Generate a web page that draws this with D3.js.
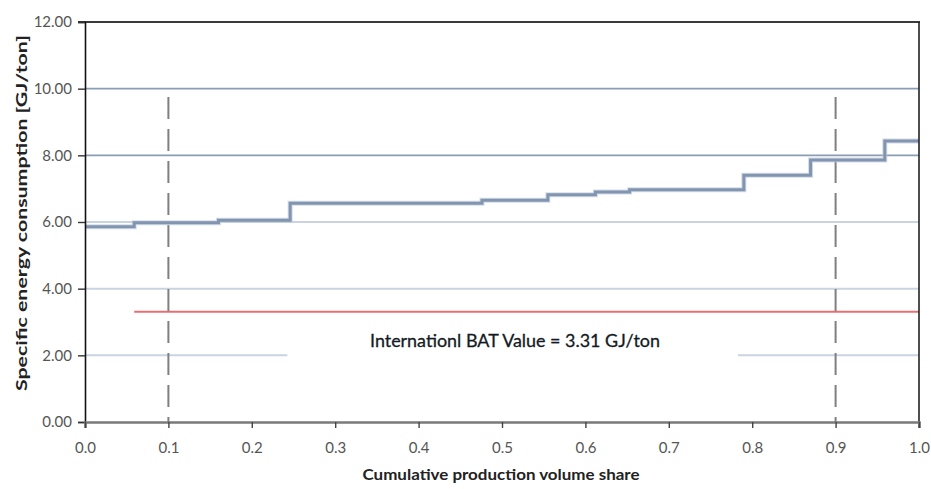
<!DOCTYPE html>
<html>
<head>
<meta charset="utf-8">
<script src="https://cdn.jsdelivr.net/npm/d3@7"></script>
<style>
  html, body { margin: 0; padding: 0; background: #fff; }
  svg { display: block; }
</style>
</head>
<body>
<svg id="chart" width="931" height="489"></svg>
<script>
// Cumulative production share (breakpoints) and specific energy use of each plant block
const shareBreaks = [0, 0.059, 0.16, 0.246, 0.476, 0.555, 0.612, 0.653, 0.79, 0.870, 0.959, 1.0];
const energyLevels = [5.86, 5.98, 6.05, 6.56, 6.65, 6.82, 6.90, 6.97, 7.40, 7.86, 8.43];

// International best available technology benchmark
const batValue = 3.31;
const batStart = 0.059;
const batLabel = "Internationl BAT Value = 3.31 GJ/ton";

// Decile markers
const decileMarks = [0.1, 0.9];
const decileTop = 9.75;

const yTicks = [0, 2, 4, 6, 8, 10, 12];
const xTicks = [0, 0.1, 0.2, 0.3, 0.4, 0.5, 0.6, 0.7, 0.8, 0.9, 1.0];
const darkGrid = [8, 10];
const lightGrid = [4, 6];
// The 2.00 gridline is interrupted by the benchmark label
const gridTwoSegments = [[0, 0.2426], [0.783, 1.0]];

const xTitle = "Cumulative production volume share";
const yTitle = "Specific energy consumption [GJ/ton]";

const svg = d3.select("#chart");
const plotLeft = 85, plotRight = 919, plotTop = 22, plotBottom = 422;

const x = d3.scaleLinear().domain([0, 1]).range([plotLeft, plotRight]);
const y = d3.scaleLinear().domain([0, 12]).range([plotBottom, plotTop]);

const tickFont = "Lato, 'Open Sans', sans-serif";

// Gridlines
svg.append("g").selectAll("line").data(lightGrid).join("line")
  .attr("x1", x(0)).attr("x2", x(1))
  .attr("y1", d => y(d)).attr("y2", d => y(d))
  .attr("stroke", "#c9d3e2").attr("stroke-width", 2);

svg.append("g").selectAll("line").data(gridTwoSegments).join("line")
  .attr("x1", d => x(d[0])).attr("x2", d => x(d[1]))
  .attr("y1", y(2)).attr("y2", y(2))
  .attr("stroke", "#c9d3e2").attr("stroke-width", 2);

svg.append("g").selectAll("line").data(darkGrid).join("line")
  .attr("x1", x(0)).attr("x2", x(1))
  .attr("y1", d => y(d)).attr("y2", d => y(d))
  .attr("stroke", "#8a9cb6").attr("stroke-width", 1.6);

// BAT benchmark line
svg.append("line")
  .attr("x1", x(batStart)).attr("x2", x(1))
  .attr("y1", y(batValue)).attr("y2", y(batValue))
  .attr("stroke", "#e46f72").attr("stroke-width", 2);

// Decile dashed markers
svg.append("g").selectAll("line").data(decileMarks).join("line")
  .attr("x1", d => x(d)).attr("x2", d => x(d))
  .attr("y1", y(decileTop)).attr("y2", y(0))
  .attr("stroke", "#7f7f7f").attr("stroke-width", 2)
  .attr("stroke-dasharray", "22 10");

// Step curve of specific energy consumption
const stepPoints = shareBreaks.map((s, i) => [s, energyLevels[Math.min(i, energyLevels.length - 1)]]);
const stepLine = d3.line()
  .x(d => x(d[0])).y(d => y(d[1]))
  .curve(d3.curveStepAfter);
svg.append("path")
  .datum(stepPoints)
  .attr("d", stepLine)
  .attr("fill", "none")
  .attr("stroke", "#c2cddd").attr("stroke-width", 5).attr("opacity", 0.7);
svg.append("path")
  .datum(stepPoints)
  .attr("d", stepLine)
  .attr("fill", "none")
  .attr("stroke", "#8194b0").attr("stroke-width", 3);

// Frame: top and right borders
svg.append("line")
  .attr("x1", x(0) - 7).attr("x2", x(1) + 1)
  .attr("y1", y(12)).attr("y2", y(12))
  .attr("stroke", "#3a3a3a").attr("stroke-width", 2);
svg.append("line")
  .attr("x1", x(1)).attr("x2", x(1))
  .attr("y1", y(12)).attr("y2", y(0) + 6)
  .attr("stroke", "#222").attr("stroke-width", 1.6);

// Y axis
const yAxis = d3.axisLeft(y).tickValues(yTicks).tickSize(7).tickPadding(6)
  .tickFormat(d3.format(".2f"));
const gy = svg.append("g").attr("transform", `translate(${plotLeft},0)`).call(yAxis);
gy.select(".domain").attr("stroke", "#111").attr("stroke-width", 1.6);
gy.selectAll(".tick line").attr("stroke", "#333").attr("stroke-width", 1.4);
gy.selectAll(".tick text")
  .attr("font-family", tickFont).attr("font-size", 15)
  .attr("fill", "#555");

// X axis
const xAxis = d3.axisBottom(x).tickValues(xTicks).tickSize(6).tickPadding(14)
  .tickFormat(d3.format(".1f"));
const gx = svg.append("g").attr("transform", `translate(0,${plotBottom})`).call(xAxis);
gx.select(".domain").attr("stroke", "#7a7a7a").attr("stroke-width", 2.6);
gx.selectAll(".tick line").attr("stroke", "#444").attr("stroke-width", 1.4);
gx.selectAll(".tick text")
  .attr("font-family", tickFont).attr("font-size", 15)
  .attr("fill", "#555");

// Benchmark label
svg.append("text")
  .attr("x", 515).attr("y", 347)
  .attr("text-anchor", "middle")
  .attr("font-family", tickFont).attr("font-size", 18)
  .attr("fill", "#141a24")
  .attr("stroke", "#141a24").attr("stroke-width", 0.3)
  .attr("textLength", 290).attr("lengthAdjust", "spacingAndGlyphs")
  .text(batLabel);

// Axis titles
svg.append("text")
  .attr("x", 501).attr("y", 480)
  .attr("text-anchor", "middle")
  .attr("font-family", tickFont).attr("font-size", 16).attr("font-weight", "bold")
  .attr("fill", "#222")
  .attr("textLength", 277).attr("lengthAdjust", "spacingAndGlyphs")
  .text(xTitle);

svg.append("text")
  .attr("transform", "translate(27,213) rotate(-90)")
  .attr("text-anchor", "middle")
  .attr("font-family", tickFont).attr("font-size", 15).attr("font-weight", "bold")
  .attr("fill", "#222")
  .attr("textLength", 356).attr("lengthAdjust", "spacingAndGlyphs")
  .text(yTitle);
</script>
</body>
</html>
